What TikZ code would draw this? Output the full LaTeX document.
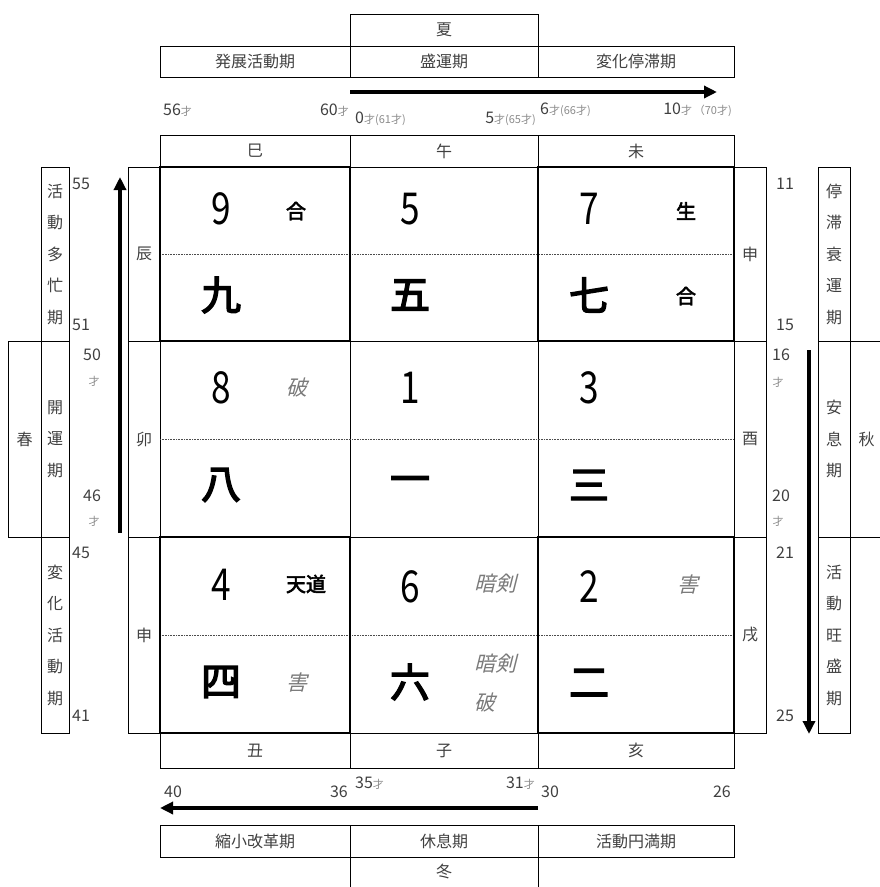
\documentclass[tikz,border=0pt]{standalone}
\usepackage{fontspec}
\setmainfont{Noto Sans CJK JP}[AutoFakeSlant=0.25]
\newfontfamily\dig{Noto Sans CJK JP}[FakeStretch=0.8]
\newfontfamily\kjf{Noto Sans CJK JP}[FakeBold=3.5]
\newfontfamily\sbf{Noto Sans CJK JP}[FakeBold=3]
\usetikzlibrary{arrows.meta}
\definecolor{txt}{HTML}{404040}
\definecolor{light}{HTML}{8A8A8A}
\definecolor{ital}{HTML}{7A7A7A}
\newcommand\fs[1]{\fontsize{#1}{#1}\selectfont}
\newcommand\sm[1]{{\fs{11}\color{light}#1}}
\newcommand\bx[7][]{\node[box,#1,minimum width={(#5)-(#3)},minimum height={(#6)-(#4)}] (#2) at ({((#3)+(#5))/2},{((#4)+(#6))/2}) {#7};}
\tikzset{
  box/.style={draw=black, line width=0.8pt, inner sep=0pt, outer sep=0pt, text=txt, font=\fs{16}},
  vert/.style={align=center, font=\fontsize{16}{31.5}\selectfont},
  heavy/.style={draw=black, line width=2.3pt},
  dotline/.style={draw=black!70, line width=0.6pt, dash pattern=on 0.8pt off 0.8pt},
  age/.style={inner sep=0pt, text=txt, font=\fs{16}},
  dg/.style={inner sep=0pt, font=\dig\fs{44}},
  kj/.style={inner sep=0pt, font=\kjf\fs{40}},
  sb/.style={inner sep=0pt, font=\sbf\fs{20}},
  ig/.style={inner sep=0pt, text=ital, font=\itshape\fs{21}},
  bigarrow/.style={line width=3.5pt, -{Triangle[length=13pt,width=12pt]}},
}
\begin{document}
\begin{tikzpicture}[x=1pt,y=-1pt]
\useasboundingbox (0,0) rectangle (880,887);
% top
\bx{summer}{350}{14}{538}{46}{夏}
\bx{t1}{160}{46}{350}{77}{発展活動期}
\bx{t2}{350}{46}{538}{77}{盛運期}
\bx{t3}{538}{46}{734}{77}{変化停滞期}
\coordinate (ta1) at (350,92);
\coordinate (ta2) at (717,92);
\draw[bigarrow] (ta1) -- (ta2);
\node[age,anchor=west] (a56) at (163,110) {56\sm{才}};
\node[age,anchor=east] (a60) at (349,110) {60\sm{才}};
\node[age,anchor=west] (a0) at (355,119) {0\sm{才(61才)}};
\node[age,anchor=east] (a5) at (536,119) {5\sm{才(65才)}};
\node[age,anchor=west] (a6) at (540,110) {6\sm{才(66才)}};
\node[age,anchor=east] (a10) at (732,110) {10\sm{才\,（70才)}};
% branch rows
\bx{b1}{160}{135}{350}{167}{巳}
\bx{b2}{350}{135}{538}{167}{午}
\bx{b3}{538}{135}{734}{167}{未}
\bx{d1}{160}{733}{350}{768}{丑}
\bx{d2}{350}{733}{538}{768}{子}
\bx{d3}{538}{733}{734}{768}{亥}
\bx{lb1}{128}{167}{160}{341}{辰}
\bx{lb2}{128}{341}{160}{537}{卯}
\bx{lb3}{128}{537}{160}{733}{申}
\bx{rb1}{734}{167}{766}{341}{申}
\bx{rb2}{734}{341}{766}{537}{酉}
\bx{rb3}{734}{537}{766}{733}{戌}
% grid
\bx{c9}{160}{167}{350}{341}{}
\bx{c5}{350}{167}{538}{341}{}
\bx{c7}{538}{167}{734}{341}{}
\bx{c8}{160}{341}{350}{537}{}
\bx{c1}{350}{341}{538}{537}{}
\bx{c3}{538}{341}{734}{537}{}
\bx{c4}{160}{537}{350}{733}{}
\bx{c6}{350}{537}{538}{733}{}
\bx{c2}{538}{537}{734}{733}{}
\draw[dotline] (c9.west) -- (c7.east);
\draw[dotline] (c8.west) -- (c3.east);
\draw[dotline] (c4.west) -- (c2.east);
\draw[heavy] (c9.north west) rectangle (c9.south east);
\draw[heavy] (c7.north west) rectangle (c7.south east);
\draw[heavy] (c4.north west) rectangle (c4.south east);
\draw[heavy] (c2.north west) rectangle (c2.south east);
% cell contents
\node[dg] (n9) at (221,209) {9};
\node[dg] (n5) at (410,209) {5};
\node[dg] (n7) at (589,209) {7};
\node[dg] (n8) at (221,388) {8};
\node[dg] (n1) at (410,388) {1};
\node[dg] (n3) at (589,388) {3};
\node[dg] (n4) at (221,585) {4};
\node[dg] (n6) at (410,587) {6};
\node[dg] (n2) at (589,587) {2};
\node[kj] (k9) at (221,295) {九};
\node[kj] (k5) at (410,295) {五};
\node[kj] (k7) at (589,295) {七};
\node[kj] (k8) at (221,485) {八};
\node[kj] (k1) at (410,485) {一};
\node[kj] (k3) at (589,485) {三};
\node[kj] (k4) at (221,682) {四};
\node[kj] (k6) at (410,682) {六};
\node[kj] (k2) at (589,683) {二};
\node[sb] (s9a) at (296,211) {合};
\node[sb] (s7a) at (686,211) {生};
\node[sb] (s7b) at (686,296) {合};
\node[sb] (s4a) at (306,584) {天道};
\node[ig] (i8a) at (297,388) {破};
\node[ig] (i6a) at (495,584) {暗剣};
\node[ig] (i2a) at (688,585) {害};
\node[ig] (i4b) at (297,683) {害};
\node[ig] (i6b) at (495,664) {暗剣};
\node[ig] (i6c) at (485,702) {破};
% left side
\bx[vert]{l1}{41}{167}{69}{341}{活\\動\\多\\忙\\期}
\bx[vert]{l2}{41}{341}{69}{537}{開\\運\\期}
\bx[vert]{l3}{41}{537}{69}{733}{変\\化\\活\\動\\期}
\bx{spring}{8}{341}{41}{537}{春}
\node[age,anchor=west] (a55) at (72,184) {55};
\node[age,anchor=west] (a51) at (72,325) {51};
\node[age] (a50) at (92,355) {50};
\node[age] (a50s) at (94,381) {\sm{才}};
\node[age] (a46) at (92,496) {46};
\node[age] (a46s) at (94,521) {\sm{才}};
\node[age,anchor=west] (a45) at (72,553) {45};
\node[age,anchor=west] (a41) at (72,716) {41};
\coordinate (la1) at (120,533);
\coordinate (la2) at (120,177);
\draw[bigarrow] (la1) -- (la2);
% right side
\bx[vert]{r1}{818}{167}{850}{341}{停\\滞\\衰\\運\\期}
\bx[vert]{r2}{818}{341}{850}{537}{安\\息\\期}
\bx[vert]{r3}{818}{537}{850}{733}{活\\動\\旺\\盛\\期}
\bx{autumn}{850}{341}{883}{537}{秋}
\node[age] (a11) at (785,184) {11};
\node[age] (a15) at (785,325) {15};
\node[age] (a16) at (781,355) {16};
\node[age] (a16s) at (778,382) {\sm{才}};
\node[age] (a20) at (781,496) {20};
\node[age] (a20s) at (778,521) {\sm{才}};
\node[age] (a21) at (785,553) {21};
\node[age] (a25) at (785,716) {25};
\coordinate (ra1) at (809,350);
\coordinate (ra2) at (809,734);
\draw[bigarrow] (ra1) -- (ra2);
% bottom
\coordinate (ba1) at (538,808);
\coordinate (ba2) at (160,808);
\draw[bigarrow] (ba1) -- (ba2);
\node[age,anchor=west] (a40) at (164,792) {40};
\node[age,anchor=east] (a36) at (348,792) {36};
\node[age,anchor=west] (a35) at (355,783) {35\sm{才}};
\node[age,anchor=east] (a31) at (535,783) {31\sm{才}};
\node[age,anchor=west] (a30) at (541,792) {30};
\node[age,anchor=east] (a26) at (731,792) {26};
\bx{e1}{160}{825}{350}{857}{縮小改革期}
\bx{e2}{350}{825}{538}{857}{休息期}
\bx{e3}{538}{825}{734}{857}{活動円満期}
\bx{winter}{350}{857}{538}{890}{}
\node[age] (wt) at (444,871) {冬};
\end{tikzpicture}
\end{document}
